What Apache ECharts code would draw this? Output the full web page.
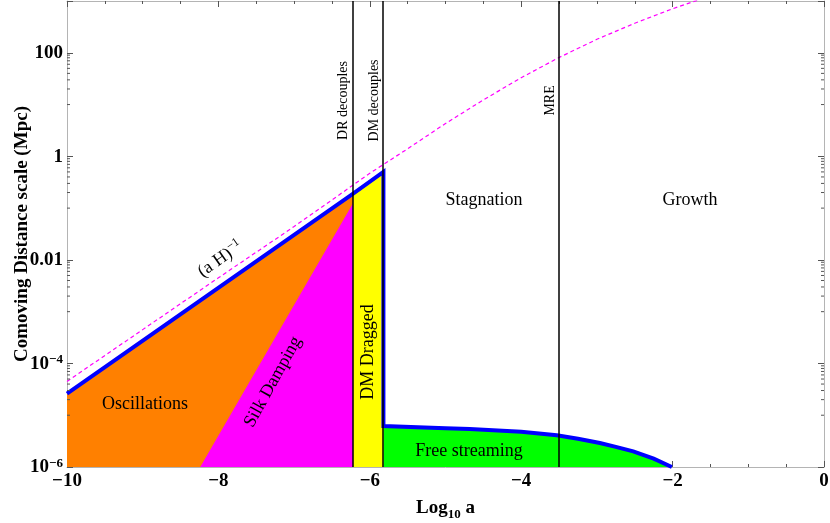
<!DOCTYPE html>
<html>
<head>
<meta charset="utf-8">
<script src="https://cdn.jsdelivr.net/npm/echarts@6/dist/echarts.min.js"></script>
<style>
  html, body { margin: 0; padding: 0; background: #fff; }
  #chart { width: 830px; height: 523px; }
</style>
</head>
<body>
<div id="chart"></div>
<script>
// x = log10 a, y = comoving scale in Mpc (drawn on a log10 axis)
const yTickExp = [-6, -4, -2, 0, 2]
const yTickLabels = ['{b|10}{s|\u22126}', '{b|10}{s|\u22124}', '{b|0.01}', '{b|1}', '{b|100}']

// (a H)^-1, dashed magenta
const hubbleA = [-10, -9, -8, -7, -6, -5.5, -5, -4.5, -4, -3.5, -3, -2.5, -2, -1.5, -1]
const hubbleMpc = [4.5e-5, 4.5e-4, 4.5e-3, 0.044, 0.47, 1.4, 4.3, 12.3, 33, 81, 182, 372, 708, 1260, 2240]

// upper blue edge (horizon at DM decoupling)
const horizonA = [-10, -6.22, -5.82]
const horizonMpc = [2.6e-5, 0.19, 0.5]

// free streaming edge
const freeA = [-5.82, -5, -4.68, -4, -3.53, -3.25, -2.96, -2.75, -2.52, -2.25, -2.01]
const freeMpc = [6.2e-6, 5.6e-6, 5.4e-6, 4.8e-6, 4.1e-6, 3.5e-6, 2.9e-6, 2.45e-6, 2.0e-6, 1.45e-6, 1e-6]

// silk damping diagonal
const silkA = [-8.24, -6.22]
const silkMpc = [1e-6, 0.126]

// events
const eventA = [-6.22, -5.83, -3.51]

// minor ticks on the y axis: 1..9 x 10^(e-1) under each labelled decade
const minorMult = [1, 2, 3, 4, 5, 6, 7, 8, 9]
const minorDecades = [-5, -3, -1, 1]

// annotations
const annoText = ['Oscillations', 'Silk Damping', 'DM Dragged', 'Free streaming', 'Stagnation', 'Growth',
  '{n|(a H)}{s|\u22121}', 'DR decouples', 'DM decouples', 'MRE']
const annoA = [-8.97, -7.28, -6.02, -4.69, -4.49, -1.77, -7.98, -6.35, -5.94, -3.61]
const annoMpc = [1.6e-5, 4.4e-5, 1.66e-4, 2.0e-6, 0.14, 0.14, 0.0107, 12, 12, 12]
const annoRot = [0, 61, 90, 0, 0, 0, 35, 90, 90, 90]
const annoSize = [18, 18, 18, 18, 18, 18, 18, 14, 14, 14]

const serif = '"Liberation Serif", "Times New Roman", serif'
const frameColor = '#b4b4b4'
const tickColor = '#555'

const pts = (xs, ys) => xs.map((x, i) => [x, Math.log10(ys[i])])

const boundary = pts(horizonA, horizonMpc).concat(pts(freeA, freeMpc))
const minorTicks = []
minorDecades.forEach(d => minorMult.forEach(m => minorTicks.push([-10, Math.log10(m * Math.pow(10, d))])))

const chart = echarts.init(document.getElementById('chart'))

const xBase = {
  type: 'value',
  min: -10,
  max: 0,
  interval: 2,
  axisLine: { show: true, onZero: false, lineStyle: { color: frameColor, width: 1 } },
  axisTick: { show: true, inside: true, length: 6, lineStyle: { color: tickColor } },
  minorTick: { show: true, splitNumber: 4, length: 3, lineStyle: { color: tickColor } },
  splitLine: { show: false }
}
const yBase = {
  type: 'value',
  min: -6,
  max: 3,
  interval: 2,
  axisLine: { show: true, onZero: false, lineStyle: { color: frameColor, width: 1 } },
  axisTick: { show: true, inside: true, length: 6, lineStyle: { color: tickColor } },
  splitLine: { show: false }
}

const fill = (data, color) => ({
  type: 'line',
  data,
  showSymbol: false,
  silent: true,
  z: 1,
  lineStyle: { width: 0 },
  areaStyle: { color, opacity: 1, origin: 'start' }
})

chart.setOption({
  animation: false,
  grid: { left: 67, right: 6, top: 1, bottom: 56, outerBoundsMode: 'none', containLabel: false },
  xAxis: [
    Object.assign({}, xBase, {
      position: 'bottom',
      name: '{b|Log}{sub|10}{b| a}',
      nameLocation: 'middle',
      nameGap: 32,
      nameMoveOverlap: false,
      nameTextStyle: {
        rich: {
          b: { fontFamily: serif, fontWeight: 'bold', fontSize: 19, color: '#000', lineHeight: 22, verticalAlign: 'top' },
          sub: { fontFamily: serif, fontWeight: 'bold', fontSize: 13, color: '#000', lineHeight: 12, verticalAlign: 'bottom' }
        }
      },
      axisLabel: {
        margin: 5,
        fontFamily: serif,
        fontWeight: 'bold',
        fontSize: 19,
        color: '#000',
        formatter: v => (v < 0 ? '\u2212' + Math.abs(v) : String(v))
      }
    }),
    Object.assign({}, xBase, { position: 'top', axisLabel: { show: false } })
  ],
  yAxis: [
    Object.assign({}, yBase, {
      position: 'left',
      name: 'Comoving Distance scale (Mpc)',
      nameLocation: 'middle',
      nameGap: 35,
      nameMoveOverlap: false,
      nameTextStyle: { fontFamily: serif, fontWeight: 'bold', fontSize: 19, color: '#000' },
      axisLabel: {
        margin: 4,
        formatter: v => {
          const i = yTickExp.indexOf(v)
          return i < 0 ? '' : yTickLabels[i]
        },
        rich: {
          b: { fontFamily: serif, fontWeight: 'bold', fontSize: 19, color: '#000', lineHeight: 20, verticalAlign: 'bottom' },
          s: { fontFamily: serif, fontWeight: 'bold', fontSize: 13, color: '#000', lineHeight: 12, verticalAlign: 'top' }
        }
      }
    }),
    Object.assign({}, yBase, { position: 'right', axisLabel: { show: false } })
  ],
  series: [
    fill(pts(horizonA.slice(0, 2), horizonMpc.slice(0, 2)), '#ff8000'),
    fill(pts(silkA, silkMpc), '#ff00ff'),
    fill(pts(horizonA.slice(1), horizonMpc.slice(1)), '#ffff00'),
    fill(pts(freeA, freeMpc), '#00ff00'),
    {
      type: 'line',
      data: [],
      silent: true,
      z: 2,
      markLine: {
        symbol: 'none',
        silent: true,
        animation: false,
        label: { show: false },
        lineStyle: { color: '#000', width: 1.5, type: 'solid' },
        data: eventA.map(a => ({ xAxis: a }))
      }
    },
    {
      type: 'line',
      data: pts(hubbleA, hubbleMpc),
      showSymbol: false,
      silent: true,
      z: 3,
      lineStyle: { color: '#ff00ff', width: 1.2, type: [4, 3] }
    },
    {
      type: 'line',
      data: boundary,
      showSymbol: false,
      silent: true,
      z: 4,
      lineStyle: { color: '#0000ff', width: 4, join: 'miter' }
    },
    {
      type: 'custom',
      data: minorTicks,
      silent: true,
      z: 5,
      encode: { x: 0, y: 1 },
      renderItem: (params, api) => {
        const y = api.coord([-10, api.value(1)])[1]
        const cs = params.coordSys
        const st = { stroke: tickColor, lineWidth: 1 }
        return {
          type: 'group',
          children: [
            { type: 'line', shape: { x1: cs.x, y1: y, x2: cs.x + 3, y2: y }, style: st },
            { type: 'line', shape: { x1: cs.x + cs.width - 3, y1: y, x2: cs.x + cs.width, y2: y }, style: st }
          ]
        }
      }
    }
  ]
})

const graphics = annoText.map((t, i) => {
  const p = chart.convertToPixel({ gridIndex: 0 }, [annoA[i], Math.log10(annoMpc[i])])
  return {
    type: 'text',
    x: p[0],
    y: p[1],
    rotation: annoRot[i] * Math.PI / 180,
    z: 10,
    silent: true,
    style: {
      text: t,
      fontFamily: serif,
      fontSize: annoSize[i],
      fill: '#000',
      align: 'center',
      verticalAlign: 'middle',
      rich: {
        n: { fontFamily: serif, fontSize: 18, fill: '#000', lineHeight: 20, verticalAlign: 'bottom' },
        s: { fontFamily: serif, fontSize: 12, fill: '#000', lineHeight: 12, verticalAlign: 'top' }
      }
    }
  }
})
chart.setOption({ graphic: graphics })
</script>
</body>
</html>
